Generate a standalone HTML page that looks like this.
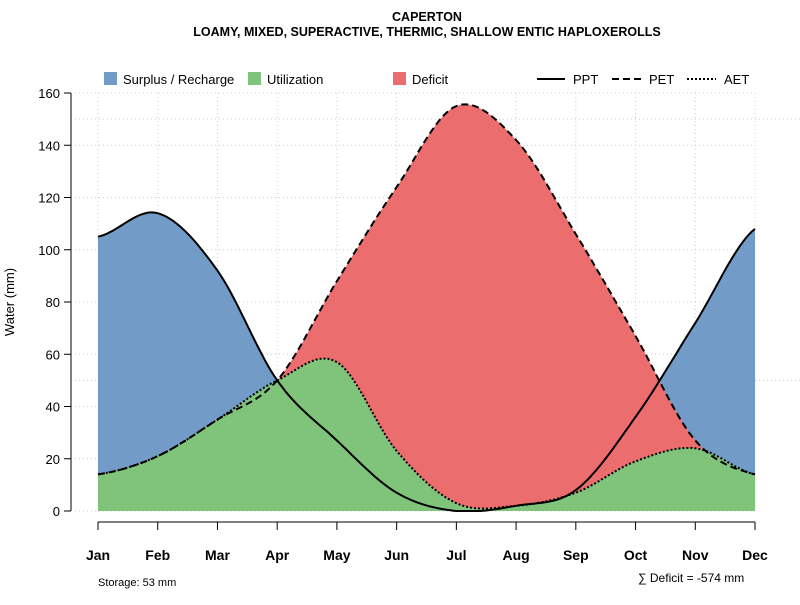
<!DOCTYPE html>
<html><head><meta charset="utf-8"><style>
body{margin:0;background:#fff;font-family:"Liberation Sans",sans-serif}
svg text{font-family:"Liberation Sans",sans-serif}
</style></head><body>
<svg id="c" width="800" height="600" xmlns="http://www.w3.org/2000/svg">
<text x="427" y="21" font-size="12.5" font-weight="bold" text-anchor="middle">CAPERTON</text>
<text x="427" y="36" font-size="12.5" font-weight="bold" text-anchor="middle">LOAMY, MIXED, SUPERACTIVE, THERMIC, SHALLOW ENTIC HAPLOXEROLLS</text>
<g id="grid"></g><g id="areas"></g><g id="lines"></g><g id="axes"></g>
<g font-size="13">
<rect x="104" y="72" width="13" height="13" fill="#739bc8"/>
<text x="123" y="84">Surplus / Recharge</text>
<rect x="248" y="72" width="13" height="13" fill="#7fc47a"/>
<text x="267" y="84">Utilization</text>
<rect x="393" y="72" width="13" height="13" fill="#eb6d6d"/>
<text x="412" y="84">Deficit</text>
<line x1="537" y1="79" x2="565" y2="79" stroke="#000" stroke-width="2"/>
<text x="573" y="84">PPT</text>
<line x1="612" y1="79" x2="641" y2="79" stroke="#000" stroke-width="2" stroke-dasharray="7,4"/>
<text x="649" y="84">PET</text>
<line x1="687" y1="79" x2="716" y2="79" stroke="#000" stroke-width="2" stroke-dasharray="2,2"/>
<text x="724" y="84">AET</text>
</g>
<text transform="translate(14,302) rotate(-90)" font-size="13" text-anchor="middle">Water (mm)</text>
<text x="98" y="586" font-size="11">Storage: 53 mm</text>
<text x="638" y="582" font-size="12">∑ Deficit = -574 mm</text>
</svg>
<script>
const months=["Jan","Feb","Mar","Apr","May","Jun","Jul","Aug","Sep","Oct","Nov","Dec"];
const ppt=[105,114,92,50,27,7,0,2,8,36,72,108];
const pet=[14,21,35,50,88,124,155,142,106,67,27,14];
const aet=[14,21,35,50,57,23,3,2,7,19,24,14];
const yTicks=[0,20,40,60,80,100,120,140,160];
const NS="http://www.w3.org/2000/svg";
const X=i=>98+i*(755-98)/11, Y=v=>511-v*(418/160);
function el(t,a,p){const e=document.createElementNS(NS,t);for(const k in a)e.setAttribute(k,a[k]);document.getElementById(p).appendChild(e);return e;}
function pts(d){const o=[];for(let i=0;i<d.length-1;i++){const p0=d[Math.max(0,i-1)],p1=d[i],p2=d[i+1],p3=d[Math.min(d.length-1,i+2)];for(let s=0;s<20;s++){const t=s/20,t2=t*t,t3=t2*t;const v=0.5*((2*p1)+(-p0+p2)*t+(2*p0-5*p1+4*p2-p3)*t2+(-p0+3*p1-3*p2+p3)*t3);o.push([X(i+t),Y(Math.max(0,v))]);}}o.push([X(d.length-1),Y(d[d.length-1])]);return o;}
function line(d){return pts(d).map((p,i)=>(i?"L":"M")+p[0].toFixed(1)+","+p[1].toFixed(1)).join("");}
function area(d){return line(d)+`L${X(11)},${Y(0)}L${X(0)},${Y(0)}Z`;}
months.forEach((m,i)=>{let g=el("line",{x1:X(i),x2:X(i),y1:93,y2:511,stroke:"#ccc","stroke-dasharray":"1,3"},"grid");});
yTicks.forEach(v=>{let g=el("line",{x1:75,x2:755,y1:Y(v),y2:Y(v),stroke:"#ccc","stroke-dasharray":"1,3"},"grid");});
[150,50].forEach(v=>{let g=el("line",{x1:75,x2:800,y1:Y(v),y2:Y(v),stroke:"#ccc","stroke-dasharray":"1,3"},"grid");});
let a1=el("path",{d:area(ppt),fill:"#739bc8"},"areas");


let a2=el("path",{d:area(pet),fill:"#eb6d6d"},"areas");


let a3=el("path",{d:area(aet),fill:"#7fc47a"},"areas");


let l1=el("path",{d:line(ppt),fill:"none",stroke:"#000","stroke-width":2},"lines");


let l2=el("path",{d:line(pet),fill:"none",stroke:"#000","stroke-width":2,"stroke-dasharray":"7,4"},"lines");


let l3=el("path",{d:line(aet),fill:"none",stroke:"#000","stroke-width":2,"stroke-dasharray":"2,2"},"lines");


el("line",{x1:71,x2:71,y1:Y(0),y2:Y(160),stroke:"#000"},"axes");
yTicks.forEach(v=>{el("line",{x1:64,x2:71,y1:Y(v),y2:Y(v),stroke:"#000"},"axes");let t=el("text",{x:60,y:Y(v)+5,"font-size":13,"text-anchor":"end"},"axes");t.textContent=v;});
el("line",{x1:X(0),x2:X(11),y1:522,y2:522,stroke:"#000"},"axes");
months.forEach((m,i)=>{el("line",{x1:X(i),x2:X(i),y1:522,y2:530,stroke:"#000"},"axes");let t=el("text",{x:X(i),y:560,"font-size":14,"font-weight":"bold","text-anchor":"middle"},"axes");t.textContent=m;});
</script>
</body></html>
